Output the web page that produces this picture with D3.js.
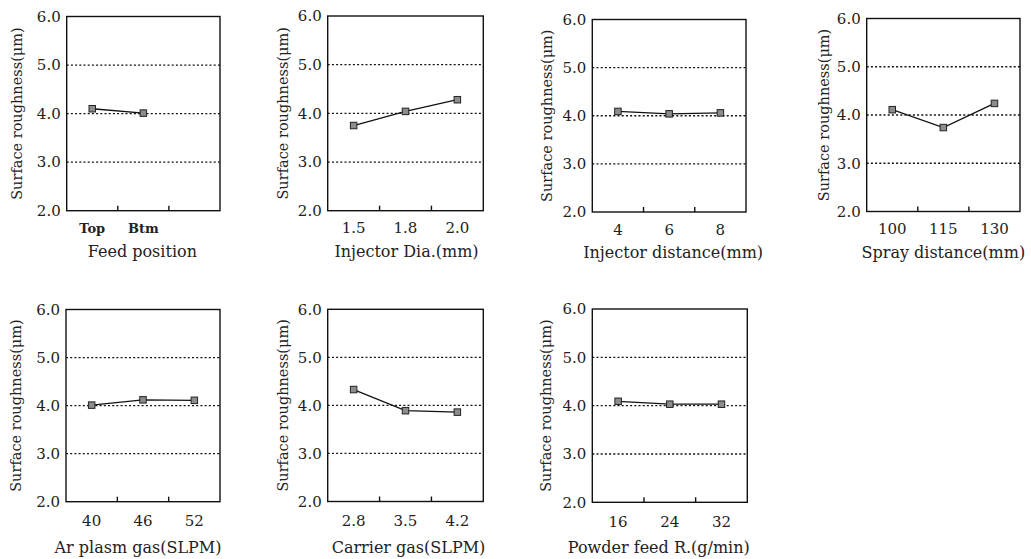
<!DOCTYPE html>
<html><head><meta charset="utf-8">
<script src="https://cdn.jsdelivr.net/npm/d3@7"></script>
<style>
html,body{margin:0;padding:0;background:#fff;}
svg{display:block;}
text{font-family:"DejaVu Serif","Liberation Serif",serif;fill:#222;}
</style></head>
<body>
<svg id="chart" width="1031" height="559"></svg>
<script>
// ---- data ----
const yTicks = [2.0, 3.0, 4.0, 5.0, 6.0];
const yTitle = "Surface roughness(\u03bcm)";

const feedLevels = ["Top", "Btm"];
const feedValues = [4.10, 4.01];

const injDiaLevels = ["1.5", "1.8", "2.0"];
const injDiaValues = [3.75, 4.04, 4.28];

const injDistLevels = ["4", "6", "8"];
const injDistValues = [4.09, 4.04, 4.06];

const sprayLevels = ["100", "115", "130"];
const sprayValues = [4.11, 3.74, 4.24];

const arGasLevels = ["40", "46", "52"];
const arGasValues = [4.01, 4.12, 4.11];

const carrierLevels = ["2.8", "3.5", "4.2"];
const carrierValues = [4.33, 3.89, 3.86];

const powderLevels = ["16", "24", "32"];
const powderValues = [4.09, 4.03, 4.03];

const titles = ["Feed position", "Injector Dia.(mm)", "Injector distance(mm)", "Spray distance(mm)",
                "Ar plasm gas(SLPM)", "Carrier gas(SLPM)", "Powder feed R.(g/min)"];

const panelsData = [
  {levels: feedLevels, values: feedValues, title: titles[0]},
  {levels: injDiaLevels, values: injDiaValues, title: titles[1]},
  {levels: injDistLevels, values: injDistValues, title: titles[2]},
  {levels: sprayLevels, values: sprayValues, title: titles[3]},
  {levels: arGasLevels, values: arGasValues, title: titles[4]},
  {levels: carrierLevels, values: carrierValues, title: titles[5]},
  {levels: powderLevels, values: powderValues, title: titles[6]}
];

// ---- layout (positions only) ----
const layout = [
  {l: 66.7, r: 220,   t: 16.5, b: 210.7, yt: 50, tdx: -1, tickDy: 17.5, titleDy: 46, bold: true},
  {l: 327.7, r: 483.3, t: 16,   b: 210.7, yt: 45, tdx: 1,  tickDy: 17.5, titleDy: 46},
  {l: 592.3, r: 746,   t: 19.5, b: 212,   yt: 45, tdx: 4,  tickDy: 17.5, titleDy: 46},
  {l: 866.7, r: 1020,  t: 18.5, b: 211.5, yt: 43, tdx: 0,  tickDy: 17.5, titleDy: 46},
  {l: 66,    r: 220,   t: 309.5, b: 501.7, yt: 50, tdx: -5, tickDy: 19.5, titleDy: 51},
  {l: 327.7, r: 483.3, t: 309.3, b: 501.5, yt: 45, tdx: 3,  tickDy: 19.5, titleDy: 51},
  {l: 592.3, r: 747.3, t: 309,  b: 502.3, yt: 46, tdx: -11, tickDy: 19.5, titleDy: 51}
];

const svg = d3.select("#chart");

panelsData.forEach((p, i) => {
  const L = layout[i];
  const g = svg.append("g");
  const y = d3.scaleLinear().domain([2, 6]).range([L.b, L.t]);
  const x = d3.scaleBand().domain(d3.range(3)).range([L.l, L.r]);
  const cx = k => x(k) + x.bandwidth() / 2;

  // grid lines (dotted)
  g.selectAll("line.grid").data(yTicks.filter(v => v > 2 && v < 6)).join("line")
    .attr("x1", L.l).attr("x2", L.r)
    .attr("y1", d => y(d)).attr("y2", d => y(d))
    .attr("stroke", "#111").attr("stroke-width", 1.3)
    .attr("stroke-dasharray", "2,2.2");

  // frame
  g.append("rect").attr("x", L.l).attr("y", L.t)
    .attr("width", L.r - L.l).attr("height", L.b - L.t)
    .attr("fill", "none").attr("stroke", "#111").attr("stroke-width", 1.4);

  // y axis tick labels
  const yAxis = d3.axisLeft(y).tickValues(yTicks).tickFormat(d3.format(".1f")).tickSize(0).tickPadding(6);
  const ya = g.append("g").attr("transform", `translate(${L.l},0)`).call(yAxis);
  ya.select(".domain").remove();
  ya.selectAll("text").style("font-size", "15px").attr("fill", "#222")
    .style("font-family", '"DejaVu Serif",serif');

  // bottom inward ticks at band boundaries
  g.selectAll("line.xt").data([1, 2]).join("line")
    .attr("x1", d => x(d)).attr("x2", d => x(d))
    .attr("y1", L.b).attr("y2", L.b - 5)
    .attr("stroke", "#111").attr("stroke-width", 1.4);

  // x tick labels
  g.selectAll("text.xl").data(p.levels).join("text")
    .attr("x", (d, k) => cx(k)).attr("y", L.b + L.tickDy)
    .attr("text-anchor", "middle").attr("dominant-baseline", "central")
    .style("font-size", L.bold ? "13px" : "15px")
    .style("font-weight", L.bold ? "bold" : "normal")
    .text(d => d);

  // x title
  g.append("text").attr("x", (L.l + L.r) / 2 + L.tdx).attr("y", L.b + L.titleDy)
    .attr("text-anchor", "middle")
    .style("font-size", "16px").text(p.title);

  // y title
  g.append("text")
    .attr("transform", `translate(${L.l - L.yt},${(L.t + L.b) / 2}) rotate(-90)`)
    .attr("text-anchor", "middle").attr("dominant-baseline", "central")
    .style("font-size", "14.5px").text(yTitle);

  // line
  const line = d3.line().x((d, k) => cx(k)).y(d => y(d));
  g.append("path").datum(p.values).attr("d", line)
    .attr("fill", "none").attr("stroke", "#111").attr("stroke-width", 1.3);

  // markers
  const s = 6.5;
  g.selectAll("rect.m").data(p.values).join("rect")
    .attr("x", (d, k) => cx(k) - s / 2).attr("y", d => y(d) - s / 2)
    .attr("width", s).attr("height", s)
    .attr("fill", "#8c8c8c").attr("stroke", "#222").attr("stroke-width", 1);
});
</script>
</body></html>
